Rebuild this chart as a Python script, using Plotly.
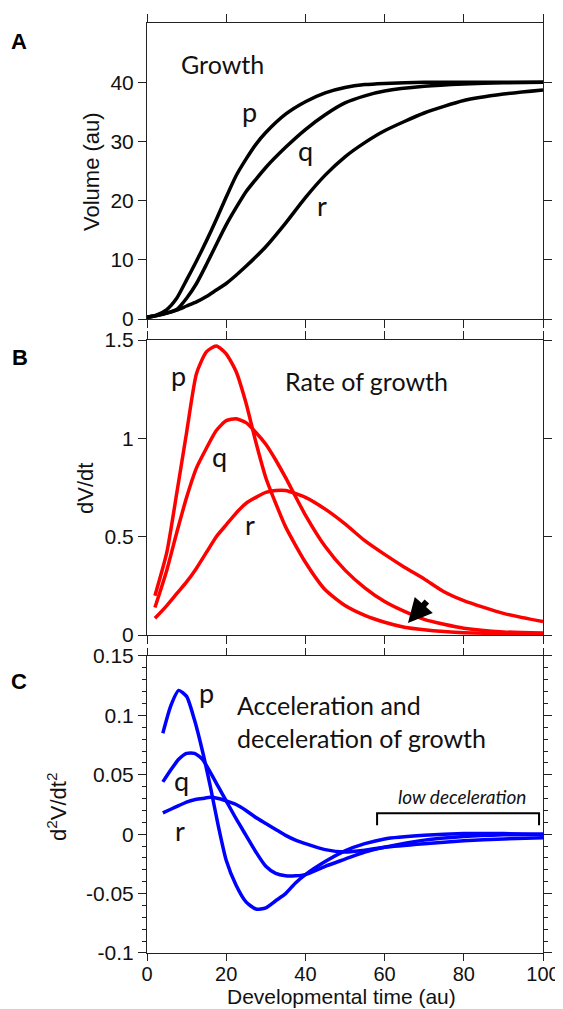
import plotly.graph_objects as go

# ---------------- data ----------------
t_A = [0, 2.5, 5, 7.5, 10, 12.5, 15, 17.5, 20, 22.5, 25, 27.5, 30, 35, 40, 45, 50, 55, 60, 70, 80, 90, 100]
vol_p = [0.3, 0.7, 1.6, 3.5, 6.6, 9.8, 13.2, 16.8, 20.6, 24.2, 27.0, 29.5, 31.5, 34.6, 36.7, 38.2, 39.1, 39.6, 39.8, 40.0, 40.0, 40.0, 40.0]
vol_q = [0.3, 0.6, 1.0, 1.6, 3.5, 6.0, 9.2, 12.6, 15.9, 18.8, 21.5, 23.6, 25.6, 29.0, 32.0, 34.5, 36.5, 37.7, 38.5, 39.3, 39.7, 39.9, 40.0]
vol_r = [0.3, 0.6, 1.0, 1.5, 2.2, 2.9, 3.8, 4.9, 6.0, 7.4, 8.9, 10.5, 12.2, 16.2, 20.5, 24.3, 27.4, 29.8, 31.8, 34.8, 36.9, 38.0, 38.7]

t_B = [2, 5, 7.5, 10, 12.5, 15, 17.5, 20, 22.5, 25, 27.5, 30, 32.5, 35, 40, 45, 50, 55, 60, 65, 70, 75, 80, 90, 100]
rate_p = [0.20, 0.42, 0.72, 1.03, 1.33, 1.44, 1.47, 1.43, 1.34, 1.18, 0.98, 0.80, 0.67, 0.55, 0.37, 0.23, 0.15, 0.10, 0.065, 0.04, 0.027, 0.018, 0.012, 0.007, 0.005]
rate_q = [0.14, 0.33, 0.52, 0.70, 0.85, 0.95, 1.04, 1.09, 1.10, 1.08, 1.03, 0.97, 0.89, 0.80, 0.61, 0.45, 0.33, 0.24, 0.17, 0.12, 0.08, 0.055, 0.035, 0.016, 0.01]
rate_r = [0.085, 0.15, 0.21, 0.27, 0.34, 0.42, 0.50, 0.56, 0.62, 0.67, 0.70, 0.725, 0.735, 0.735, 0.70, 0.64, 0.565, 0.48, 0.41, 0.345, 0.285, 0.22, 0.175, 0.11, 0.068]

t_C = [4, 6, 8, 10, 12, 14, 16, 18, 20, 22.5, 25, 27.5, 30, 32.5, 35, 37.5, 40, 45, 50, 55, 60, 70, 80, 90, 100]
acc_p = [0.085, 0.108, 0.121, 0.116, 0.096, 0.070, 0.040, 0.007, -0.022, -0.043, -0.057, -0.063, -0.062, -0.056, -0.050, -0.041, -0.034, -0.023, -0.014, -0.008, -0.004, -0.001, 0.0005, 0.0005, 0.0]
acc_q = [0.044, 0.054, 0.063, 0.068, 0.068, 0.063, 0.052, 0.040, 0.028, 0.013, -0.001, -0.015, -0.027, -0.033, -0.035, -0.035, -0.034, -0.027, -0.021, -0.015, -0.011, -0.005, -0.002, -0.0005, 0.0]
acc_r = [0.018, 0.021, 0.024, 0.027, 0.029, 0.030, 0.031, 0.030, 0.028, 0.025, 0.020, 0.014, 0.009, 0.004, -0.001, -0.005, -0.008, -0.013, -0.015, -0.0135, -0.011, -0.008, -0.0055, -0.004, -0.003]

x_ticks = [0, 20, 40, 60, 80, 100]
yA_ticks = [0, 10, 20, 30, 40]
yB_ticks = [0, 0.5, 1, 1.5]
yB_text = ["0", "0.5", "1", "1.5"]
yC_ticks = [-0.1, -0.05, 0, 0.05, 0.1, 0.15]
yC_text = ["-0.1", "-0.05", "0", "0.05", "0.1", "0.15"]

# ---------------- figure ----------------
fig = go.Figure()
LW = 3.5
for y in [vol_p, vol_q, vol_r]:
    fig.add_trace(go.Scatter(x=t_A, y=y, mode='lines', line=dict(color='black', width=LW, shape='spline', smoothing=0.6),
                             xaxis='x', yaxis='y', showlegend=False, hoverinfo='skip'))
for y in [rate_p, rate_q, rate_r]:
    fig.add_trace(go.Scatter(x=t_B, y=y, mode='lines', line=dict(color='#ff0000', width=LW, shape='spline', smoothing=0.6),
                             xaxis='x2', yaxis='y2', showlegend=False, hoverinfo='skip'))
for y in [acc_p, acc_q, acc_r]:
    fig.add_trace(go.Scatter(x=t_C, y=y, mode='lines', line=dict(color='#0000ff', width=LW, shape='spline', smoothing=0.6),
                             xaxis='x3', yaxis='y3', showlegend=False, hoverinfo='skip'))

AX = '#222222'
TF = dict(family='Arial, Liberation Sans, sans-serif', size=21, color='#111111')
common = dict(showline=True, linecolor=AX, linewidth=1, mirror='ticks', ticks='outside', ticklen=8,
              tickcolor=AX, tickwidth=1, showgrid=False, zeroline=False, tickfont=TF, automargin=False)

xa = dict(common, range=[0, 100], tickvals=x_ticks)
# page body has an 8px margin: figure is shifted by (8, 8), so size/margins compensate
fig.update_layout(
    xaxis=dict(xa, anchor='y', domain=[0, 1], showticklabels=False),
    xaxis2=dict(xa, anchor='y2', domain=[0, 1], showticklabels=False),
    xaxis3=dict(xa, anchor='y3', domain=[0, 1], showticklabels=True, ticklen=7, ticklabelstandoff=-4,
                tickfont=dict(TF, size=20)),
    yaxis=dict(common, anchor='x', domain=[0.6817, 1.0], range=[0, 50], tickvals=yA_ticks),
    yaxis2=dict(common, anchor='x2', domain=[0.3419, 0.6591], range=[0, 1.5], tickvals=yB_ticks, ticktext=yB_text),
    yaxis3=dict(common, anchor='x3', domain=[0.0, 0.3194], range=[-0.1, 0.15], tickvals=yC_ticks, ticktext=yC_text,
                minor=dict(dtick=0.01, tick0=0, ticks='outside', ticklen=4, tickcolor=AX, tickwidth=1)),
    width=555, height=1001,
    margin=dict(l=139, r=20, t=15, b=56),
    plot_bgcolor='white', paper_bgcolor='white',
)

LF = dict(family='Lato, Open Sans, sans-serif', size=27, color='#111111')
TXT = dict(family='Lato, Open Sans, sans-serif', size=25, color='#111111')
ann = []
def A(text, x, y, xref, yref, font, xanchor='center', yanchor='middle', **kw):
    ann.append(dict(text=text, x=x, y=y, xref=xref, yref=yref, showarrow=False, font=font,
                    xanchor=xanchor, yanchor=yanchor, **kw))

# panel letters
PL = dict(family='Arial, Liberation Sans, sans-serif', size=22, color='black')
A('<b>A</b>', -0.3232, 0.9796, 'paper', 'paper', PL)
A('<b>B</b>', -0.3207, 0.6398, 'paper', 'paper', PL)
A('<b>C</b>', -0.3232, 0.2914, 'paper', 'paper', PL)

# axis titles
AT = dict(family='Arial, Liberation Sans, sans-serif', size=22, color='#111111')
A('Volume (au)', -0.1389, 0.8409, 'paper', 'paper', AT, textangle=-90)
A('dV/dt', -0.1566, 0.5, 'paper', 'paper', AT, textangle=-90)
A('d<sup>2</sup>V/dt<sup>2</sup>', -0.2273, 0.158, 'paper', 'paper', AT, textangle=-90)
A('Developmental time (au)', 0.4924, -0.0470, 'paper', 'paper', dict(AT, size=21))

# panel A text
A('Growth', 8.1, 43.0, 'x', 'y', TXT, xanchor='left')
A('p', 26, 35.1, 'x', 'y', LF)
A('q', 39.9, 28.5, 'x', 'y', LF)
A('r', 44.2, 19.2, 'x', 'y', LF)
# panel B text
A('Rate of growth', 34.3, 1.29, 'x2', 'y2', TXT, xanchor='left')
A('p', 7.9, 1.32, 'x2', 'y2', LF)
A('q', 18.4, 0.91, 'x2', 'y2', LF)
A('r', 26, 0.56, 'x2', 'y2', LF)
# panel C text
A('Acceleration and', 22.2, 0.1086, 'x3', 'y3', TXT, xanchor='left')
A('deceleration of growth', 22.2, 0.081, 'x3', 'y3', TXT, xanchor='left')
A('p', 15.1, 0.119, 'x3', 'y3', LF)
A('q', 8.8, 0.045, 'x3', 'y3', LF)
A('r', 8.3, 0.003, 'x3', 'y3', LF)
A('<i>low deceleration</i>', 79.5, 0.032, 'x3', 'y3', dict(TXT, size=19))

# arrow in panel B
ann.append(dict(x=65.9, y=0.061, ax=71.0, ay=0.178, xref='x2', yref='y2', axref='x2', ayref='y2',
                text='', showarrow=True, arrowhead=2, arrowsize=0.8, arrowwidth=6, arrowcolor='black'))
fig.update_layout(annotations=ann)

# bracket in panel C
fig.add_shape(type='path', path='M 58.1,0.0076 L 58.1,0.0177 L 99,0.0177 L 99,0.0076',
              xref='x3', yref='y3', line=dict(color='black', width=2))

fig.write_html('out.html')
